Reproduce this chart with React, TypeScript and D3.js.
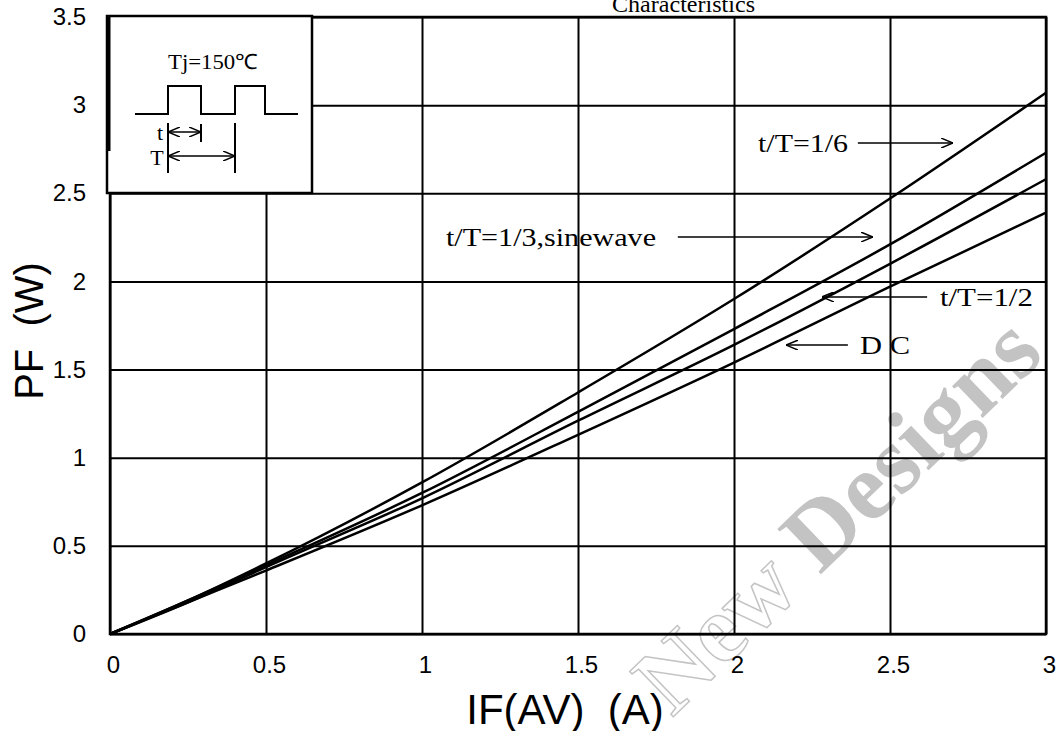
import { useEffect, useRef } from "react";
import * as d3 from "d3";

// forward current IF(AV) (A) and power dissipation PF (W) per waveform
const ifAv = [0, 0.25, 0.5, 1, 1.5, 2, 2.5, 3];
const pfSixth = [0, 0.19, 0.4, 0.86, 1.37, 1.9, 2.47, 3.07];
const pfThird = [0, 0.19, 0.39, 0.8, 1.26, 1.73, 2.21, 2.73];
const pfHalf = [0, 0.18, 0.38, 0.77, 1.21, 1.64, 2.1, 2.58];
const pfDC = [0, 0.18, 0.36, 0.73, 1.13, 1.54, 1.97, 2.39];

const xTicks = [0, 0.5, 1, 1.5, 2, 2.5, 3];
const yTicks = [0, 0.5, 1, 1.5, 2, 2.5, 3, 3.5];

const curveLabels = ["t/T=1/6", "t/T=1/3,sinewave", "t/T=1/2", "D C"];
// label anchor (data units) and arrow from/to along IF at the same PF
const labelX = [2.077, 1.077, 2.66, 2.404];
const labelY = [2.785, 2.252, 1.912, 1.639];
const labelW = [90, 210, 93, 50];
const arrowFrom = [2.397, 1.82, 2.619, 2.365];
const arrowTo = [2.702, 2.445, 2.282, 2.167];

const W = 1059;
const H = 731;
const left = 110, right = 1046, top = 17, bottom = 634;

const serif = "'Liberation Serif', 'Times New Roman', serif";
const narrow = "'Liberation Sans Narrow', 'Arial Narrow', 'Liberation Sans', sans-serif";
const sans = "'Liberation Sans', Arial, sans-serif";

function App() {
  const svgRef = useRef(null);

  useEffect(() => {
    const svg = d3.select(svgRef.current);
    svg.selectAll("*").remove();

    const x = d3.scaleLinear().domain([0, 3]).range([left, right]);
    const y = d3.scaleLinear().domain([0, 3.5]).range([bottom, top]);

    svg.append("rect").attr("width", W).attr("height", H).attr("fill", "white");

    const defs = svg.append("defs");
    defs.append("marker")
      .attr("id", "arr")
      .attr("viewBox", "0 0 12 10")
      .attr("refX", 12)
      .attr("refY", 5)
      .attr("markerWidth", 12)
      .attr("markerHeight", 10)
      .attr("markerUnits", "userSpaceOnUse")
      .attr("orient", "auto-start-reverse")
      .append("path")
      .attr("d", "M0,0 L12,5 L0,10")
      .attr("fill", "none")
      .attr("stroke", "black")
      .attr("stroke-width", 1.5);

    // watermark under everything
    const wm = svg.append("text")
      .attr("transform", "translate(672,718) rotate(-44)")
      .attr("font-family", serif)
      .attr("font-weight", "bold")
      .attr("font-size", 96);
    wm.append("tspan").text("New ")
      .attr("fill", "none").attr("stroke", "#c4c4c4").attr("stroke-width", 1.5);
    wm.append("tspan").text("Designs").attr("fill", "#c3c3c3");

    // grid via axes
    const xAxis = d3.axisBottom(x).tickValues(xTicks).tickSize(-(bottom - top)).tickFormat((d) => String(d));
    const gx = svg.append("g").attr("transform", `translate(0,${bottom})`).call(xAxis);
    gx.select(".domain").remove();
    gx.selectAll(".tick line").attr("stroke", "black").attr("stroke-width", 2);
    gx.selectAll(".tick text")
      .attr("y", 39).attr("dy", 0).attr("x", 3)
      .attr("font-family", narrow).attr("font-size", 24).attr("fill", "black");

    const yAxis = d3.axisLeft(y).tickValues(yTicks).tickSize(-(right - left)).tickPadding(24).tickFormat((d) => String(d));
    const gy = svg.append("g").attr("transform", `translate(${left},0)`).call(yAxis);
    gy.select(".domain").remove();
    gy.selectAll(".tick line").attr("stroke", "black").attr("stroke-width", 2);
    gy.selectAll(".tick text")
      .attr("font-family", narrow).attr("font-size", 24).attr("fill", "black");

    svg.append("rect")
      .attr("x", left).attr("y", top)
      .attr("width", right - left).attr("height", bottom - top)
      .attr("fill", "none").attr("stroke", "black").attr("stroke-width", 2.5);

    // curves
    const line = d3.line<number>()
      .x((d, i) => x(ifAv[i]))
      .y((d) => y(d))
      .curve(d3.curveMonotoneX);
    svg.selectAll(".curve")
      .data([pfSixth, pfThird, pfHalf, pfDC])
      .join("path")
      .attr("class", "curve")
      .attr("d", (d) => line(d))
      .attr("fill", "none")
      .attr("stroke", "black")
      .attr("stroke-width", 2.5);

    // labels + arrows
    curveLabels.forEach((t, i) => {
      svg.append("text")
        .attr("x", x(labelX[i]))
        .attr("y", y(labelY[i]))
        .attr("dy", "0.35em")
        .attr("textLength", labelW[i])
        .attr("lengthAdjust", "spacingAndGlyphs")
        .attr("font-family", serif)
        .attr("font-size", 25)
        .text(t);
      svg.append("line")
        .attr("x1", x(arrowFrom[i])).attr("x2", x(arrowTo[i]))
        .attr("y1", y(labelY[i])).attr("y2", y(labelY[i]))
        .attr("stroke", "black").attr("stroke-width", 1.5)
        .attr("marker-end", "url(#arr)");
    });

    // inset with pulse sketch
    const ix = left - 3, iy = top - 1;
    const inset = svg.append("g").attr("transform", `translate(${ix},${iy})`);
    inset.append("rect")
      .attr("width", 205).attr("height", 177)
      .attr("fill", "white").attr("stroke", "black").attr("stroke-width", 2.5);
    inset.append("line")
      .attr("x1", 1.5).attr("x2", 1.5).attr("y1", 0).attr("y2", 135)
      .attr("stroke", "black").attr("stroke-width", 4);
    inset.append("text")
      .attr("x", 106).attr("y", 46).attr("dy", "0.35em")
      .attr("text-anchor", "middle")
      .attr("textLength", 90).attr("lengthAdjust", "spacingAndGlyphs")
      .attr("font-family", serif).attr("font-size", 21)
      .text("Tj=150℃");
    inset.append("path")
      .attr("d", "M28,98 H61 V70 H94 V98 H128 V70 H158 V98 H191")
      .attr("fill", "none").attr("stroke", "black").attr("stroke-width", 2);
    inset.append("path")
      .attr("d", "M61,107 V157 M94,108 V126 M128,107 V157")
      .attr("fill", "none").attr("stroke", "black").attr("stroke-width", 2);
    const dbl = [[61, 94, 116], [61, 128, 140]];
    dbl.forEach(([a, b, yy]) => {
      inset.append("line")
        .attr("x1", a).attr("x2", b).attr("y1", yy).attr("y2", yy)
        .attr("stroke", "black").attr("stroke-width", 1.5)
        .attr("marker-start", "url(#arr)")
        .attr("marker-end", "url(#arr)");
    });
    inset.append("text").attr("x", 53).attr("y", 116).attr("dy", "0.35em")
      .attr("text-anchor", "middle").attr("font-family", serif).attr("font-size", 22).text("t");
    inset.append("text").attr("x", 50).attr("y", 141).attr("dy", "0.35em")
      .attr("text-anchor", "middle").attr("font-family", serif).attr("font-size", 22).text("T");

    // clipped title at the very top
    svg.append("text")
      .attr("x", 612).attr("y", 12)
      .attr("textLength", 143).attr("lengthAdjust", "spacingAndGlyphs")
      .attr("font-family", serif).attr("font-size", 24)
      .text("Characteristics");

    // axis titles
    svg.append("text")
      .attr("x", 565).attr("y", 724)
      .attr("text-anchor", "middle")
      .attr("font-family", sans).attr("font-size", 42)
      .style("white-space", "pre")
      .text("IF(AV)  (A)");
    svg.append("text")
      .attr("transform", "translate(43,331) rotate(-90)")
      .attr("text-anchor", "middle")
      .attr("font-family", sans).attr("font-size", 40)
      .style("white-space", "pre")
      .text("PF  (W)");
  }, []);

  return (
    <svg ref={svgRef} width={W} height={H} style={{ position: "absolute", left: 0, top: 0 }} />
  );
}

export default App;
